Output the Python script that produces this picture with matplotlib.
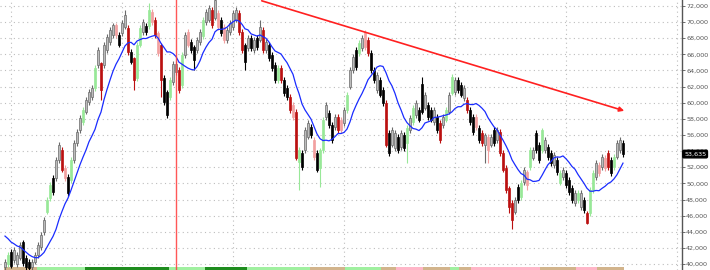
import numpy as np
import pandas as pd
import matplotlib
matplotlib.use("Agg")
import matplotlib.pyplot as plt

# prices in thousands
opens = [39.6, 40.0, 41.5, 40.5, 40.0, 40.8, 42.7, 40.8, 40.3, 39.6,
         40.3, 41.1, 42.1, 44.0, 46.5, 48.2, 50.7, 50.7, 52.9, 54.1,
         51.9, 50.8, 50.4, 52.9, 55.0, 56.6, 57.6, 58.9, 60.1, 60.7,
         61.8, 64.7, 64.9, 64.7, 66.5, 67.5, 68.4, 69.6, 68.4, 68.6,
         69.4, 69.3, 66.3, 65.5, 63.1, 67.2, 68.8, 69.5, 69.5, 71.3,
         70.3, 68.6, 67.2, 63.1, 61.3, 60.7, 62.6, 63.8, 64.1, 62.2,
         65.9, 68.8, 67.5, 66.9, 66.5, 67.5, 68.3, 70.0, 70.3, 71.5,
         70.5, 71.1, 70.3, 69.4, 67.8, 68.8, 69.4, 70.3, 71.1, 68.8,
         67.2, 66.8, 68.0, 66.5, 68.0, 67.8, 69.0, 66.5, 67.2, 65.9,
         64.7, 62.8, 64.3, 62.8, 61.8, 60.7, 59.7, 58.9, 52.7, 53.8,
         54.1, 55.8, 57.0, 55.4, 53.8, 51.9, 54.1, 58.2, 58.7, 57.2,
         57.0, 58.2, 57.9, 57.5, 59.1, 62.0, 64.1, 66.5, 66.2, 66.8,
         68.8, 67.8, 66.2, 64.1, 61.6, 62.8, 61.6, 60.0, 56.3, 54.8,
         54.4, 55.8, 54.5, 56.0, 55.0, 56.6, 57.6, 58.5, 59.1, 62.3,
         59.4, 59.7, 59.1, 57.6, 58.2, 57.5, 57.2, 57.9, 58.9, 61.2,
         61.3, 62.8, 62.2, 60.6, 60.3, 59.1, 58.2, 58.2, 56.9, 56.3,
         54.8, 55.8, 54.8, 56.6, 55.4, 56.4, 53.8, 51.9, 49.4, 47.6,
         46.5, 49.6, 48.3, 50.2, 51.4, 52.0, 53.2, 56.3, 54.8, 54.1,
         54.1, 54.5, 53.8, 52.3, 52.9, 50.1, 50.8, 51.3, 50.4, 49.4,
         47.6, 47.9, 47.1, 47.9, 46.3, 46.3, 49.2, 50.8, 52.3, 52.0,
         53.2, 53.8, 52.9, 52.0, 53.3, 54.1, 55.0]
closes = [40.3, 41.1, 39.8, 41.8, 41.1, 42.4, 40.1, 39.6, 39.5, 40.3,
          41.1, 42.4, 43.6, 45.5, 47.9, 49.8, 48.9, 52.9, 54.8, 51.7,
          50.7, 48.8, 52.9, 55.0, 56.4, 58.1, 59.1, 60.3, 61.3, 61.8,
          64.3, 66.5, 61.6, 67.2, 68.2, 69.0, 69.6, 68.4, 67.2, 69.9,
          70.9, 66.3, 65.1, 62.8, 67.2, 69.3, 70.0, 68.8, 71.5, 70.0,
          68.4, 66.2, 62.8, 60.1, 58.5, 62.8, 64.8, 64.8, 61.6, 65.9,
          68.4, 67.2, 66.5, 65.3, 67.8, 68.8, 70.3, 71.3, 71.8, 69.6,
          72.7, 69.4, 68.6, 67.8, 69.0, 69.9, 71.1, 71.5, 68.8, 66.5,
          65.1, 68.0, 66.8, 67.8, 66.9, 69.4, 66.5, 67.5, 65.5, 64.3,
          62.8, 64.3, 62.8, 61.2, 60.7, 59.1, 58.2, 53.2, 54.1, 52.0,
          56.6, 57.5, 56.0, 53.3, 51.7, 54.1, 57.9, 59.7, 57.2, 55.4,
          58.2, 56.6, 56.6, 59.1, 61.0, 64.1, 65.7, 64.4, 67.4, 68.0,
          66.9, 66.2, 64.1, 62.8, 63.4, 61.0, 60.0, 54.8, 53.8, 56.6,
          56.3, 54.1, 56.3, 54.4, 56.9, 58.1, 59.4, 60.0, 57.9, 58.9,
          61.0, 58.2, 57.9, 59.1, 56.6, 55.4, 58.2, 59.1, 61.0, 63.2,
          62.8, 61.6, 61.0, 61.8, 59.1, 57.6, 56.4, 57.0, 55.4, 55.0,
          56.0, 54.1, 55.8, 55.0, 56.6, 53.8, 51.7, 49.2, 47.1, 45.5,
          47.9, 47.9, 50.1, 51.7, 49.8, 54.1, 54.1, 54.1, 52.9, 56.6,
          55.4, 53.3, 52.5, 53.5, 51.4, 51.3, 51.7, 49.8, 48.9, 47.9,
          48.8, 48.8, 48.8, 46.7, 45.1, 49.2, 51.3, 52.5, 51.3, 53.3,
          51.9, 52.0, 51.3, 53.3, 55.0, 55.4, 53.635]

# long wicks (bar index: (high, low))
long_wicks = {6: (43.0, 39.8), 32: (65.1, 60.3), 40: (71.5, 69.2), 43: (65.7, 61.6),
              48: (72.4, 69.2), 52: (67.4, 60.7), 54: (61.6, 58.1), 63: (67.2, 64.1),
              70: (73.0, 70.2), 80: (67.4, 64.1), 85: (70.3, 67.5), 98: (54.5, 49.2),
              105: (54.4, 49.6), 120: (69.0, 66.6), 134: (57.2, 52.5), 139: (63.2, 58.6),
              149: (63.6, 60.9), 160: (56.3, 52.5), 161: (56.1, 52.5), 168: (49.7, 46.3),
              169: (47.9, 44.3), 174: (51.7, 49.2), 177: (56.6, 53.8), 179: (56.9, 53.8),
              194: (46.6, 45.0), 204: (55.4, 53.0)}

# candle colour codes: u grey up, d black down, G green, R dark red, P pink
code_rows = ["uGduuudddu", "uuuuGGduuR", "PdGuuuGuuu", "GuRuuuuPdu", "uRdRGGudGP",
             "RPRddGuuRG", "uPdduuGuuR", "uPdPuuuuRR", "dududuRudd", "dGRddRPRGd",
             "uudPdGGudd", "uRPuGuudGu", "PRdduddRdu", "ududGuGudd", "uddudRuGuG",
             "udduRddPdR", "uPuduRRRRR", "udGuPGuddG", "uddudGuddd", "uGudRGGuPu",
             "PRdGuud"]

# warm-up closes before the first visible bar
prior_closes = [45.0, 44.7, 44.5, 44.3, 44.0, 43.8, 43.6, 43.3, 43.0, 42.7, 42.4]
ma_period = 12

# bottom regime strip: (colour, number of bars)
regimes = [("tan", 11), ("lg", 16), ("dg", 28), ("lg", 12), ("dg", 14), ("lg", 21),
           ("tan", 12), ("lg", 12), ("tan", 5), ("pink", 9), ("tan", 9), ("lg", 3),
           ("tan", 4), ("pink", 23), ("tan", 12), ("pink", 7), ("tan", 9)]

price_ticks = list(range(40, 73, 2))
marker_bar = 57
trend_x = [84.7, 207.3]
trend_y = [72.74, 58.9]
last_label = "53,635"

body_col = {"u": "#bcbcbc", "d": "#000000", "G": "#98e898", "R": "#bb1010", "P": "#f2a0a0"}
edge_col = {"u": "#6a6a6a", "d": "#000000", "G": "#98e898", "R": "#bb1010", "P": "#f2a0a0"}
strip_col = {"tan": "#d2b48c", "lg": "#a0f0a0", "dg": "#1e8c1e", "pink": "#ffb6c8"}

n = len(closes)
x = np.arange(n)
o = np.array(opens)
c = np.array(closes)
hi = np.maximum(o, c) + 0.35
lo = np.minimum(o, c) - 0.35
for k, (h, l) in long_wicks.items():
    hi[k] = h
    lo[k] = l
codes = "".join(code_rows)

fig = plt.figure(figsize=(7.1, 2.7), dpi=100)
ax = fig.add_axes([0, 0, 682 / 710, 1])
ax.set_xlim(-1.67, 225.67)
ax.set_ylim(39.26, 72.74)

# grid
for t in price_ticks:
    ax.axhline(t, color="#bdbdbd", lw=0.8, ls=(0, (1, 3)), zorder=0)
for gx in range(2, 226, 37):
    ax.axvline(gx, color="#bdbdbd", lw=0.8, ls=(0, (1, 3)), zorder=0)

# regime strip
start = 0
for name, cnt in regimes:
    ax.bar(np.arange(start, start + cnt), 39.62 - 39.26, bottom=39.26, width=1.0,
           color=strip_col[name], lw=0, zorder=1)
    start += cnt

# candles
for i in range(n):
    k = codes[i]
    ax.vlines(x[i], lo[i], hi[i], color=edge_col[k], lw=0.8, zorder=2)
    ax.bar(x[i], max(abs(c[i] - o[i]), 0.08), bottom=min(o[i], c[i]), width=0.75,
           color=body_col[k], edgecolor=edge_col[k], lw=0.5, zorder=3)

# moving average
s = pd.Series(prior_closes + closes)
ma = s.rolling(ma_period).mean().to_numpy()[len(prior_closes):]
ax.plot(x, ma, color="#1a2cff", lw=0.9, zorder=4)

ax.axvline(marker_bar, color="#ff3b3b", lw=1.0, alpha=0.85, zorder=5)
ax.annotate("", xy=(trend_x[1], trend_y[1]), xytext=(trend_x[0], trend_y[0]),
            arrowprops=dict(arrowstyle="-|>", color="#ff2020", lw=1.2, mutation_scale=7),
            zorder=6, annotation_clip=False)

# axes styling
for side in ["top", "left", "bottom"]:
    ax.spines[side].set_visible(False)
ax.spines["right"].set_color("#555555")
ax.spines["right"].set_linewidth(1.0)
ax.set_xticks([])
ax.yaxis.tick_right()
ax.set_yticks(price_ticks)
ax.set_yticklabels([f"{t * 1000:,}" for t in price_ticks], fontsize=4.6, color="#555555")
ax.tick_params(axis="y", length=2, width=0.6, color="#555555", pad=1)

ax.text(1.003, (closes[-1] - 39.26) / (72.74 - 39.26), last_label, transform=ax.transAxes,
        fontsize=4.6, color="white", va="center", ha="left", zorder=10,
        bbox=dict(boxstyle="round,pad=0.2", fc="black", ec="black"))

fig.savefig("out.png", dpi=100)
